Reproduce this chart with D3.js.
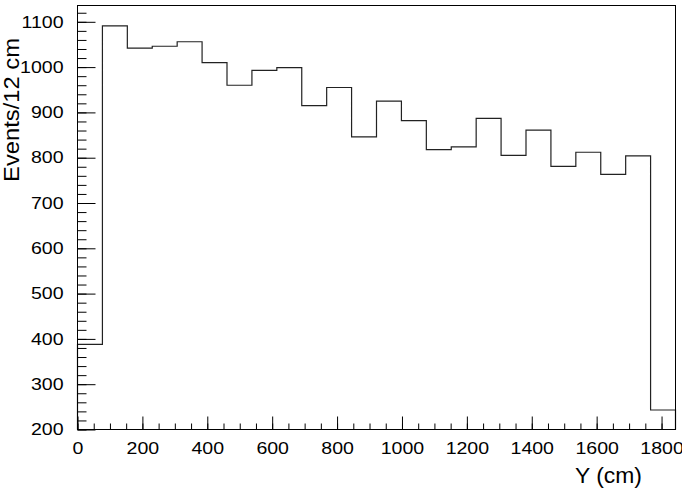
<!DOCTYPE html>
<html>
<head>
<meta charset="utf-8">
<script src="https://cdn.jsdelivr.net/npm/d3@7"></script>
<style>
  html, body { margin: 0; padding: 0; background: #fff; }
  svg { display: block; }
</style>
</head>
<body>
<svg id="chart" width="682" height="489"></svg>
<script>
// ---- data ----
const xRange = [0, 1843];          // Y (cm)
const nBins = 24;
const counts = [388, 1091, 1042, 1046, 1056, 1010, 960, 993, 999, 915, 955, 846,
                925, 882, 818, 824, 887, 805, 861, 781, 812, 763, 804, 243];
const yRange = [200, 1136];
const xMajorTicks = [0, 200, 400, 600, 800, 1000, 1200, 1400, 1600, 1800];
const yMajorTicks = [200, 300, 400, 500, 600, 700, 800, 900, 1000, 1100];
const xLabel = "Y (cm)";
const yLabel = "Events/12 cm";

// ---- layout ----
const svg = d3.select("#chart");
const L = 77.5, R = 675.5, T = 5.5, B = 429.5;
const FONT = "Liberation Sans, Arial, Helvetica, sans-serif";
const WIDEN = 1.2;

const x = d3.scaleLinear().domain(xRange).range([L, R]);
const y = d3.scaleLinear().domain(yRange).range([B, T]);

const binW = (xRange[1] - xRange[0]) / nBins;
const bins = counts.map((c, i) => ({x0: xRange[0] + i * binW, x1: xRange[0] + (i + 1) * binW, v: c}));

// histogram outline
let d = `M${x(bins[0].x0)},${y(yRange[0])}`;
bins.forEach(b => { d += `L${x(b.x0)},${y(b.v)}L${x(b.x1)},${y(b.v)}`; });
d += `L${x(bins[bins.length - 1].x1)},${y(yRange[0])}`;
svg.append("path").attr("d", d).attr("fill", "none").attr("stroke", "#222").attr("stroke-width", 1.2);

// frame
svg.append("rect").attr("x", L).attr("y", T).attr("width", R - L).attr("height", B - T)
  .attr("fill", "none").attr("stroke", "#000").attr("stroke-width", 1);

function widen(sel, f) {
  sel.each(function () {
    const w = this.getComputedTextLength();
    d3.select(this).attr("textLength", w * f).attr("lengthAdjust", "spacingAndGlyphs");
  });
}

// y axis minor
const yMinor = d3.range(yRange[0], yRange[1], 20);
svg.append("g").attr("transform", `translate(${L},0)`)
  .call(d3.axisLeft(y).tickValues(yMinor).tickSizeInner(-9).tickSizeOuter(0).tickFormat(""))
  .call(g => g.select(".domain").remove());
// y axis major
svg.append("g").attr("transform", `translate(${L},0)`)
  .call(d3.axisLeft(y).tickValues(yMajorTicks).tickSizeInner(-18).tickSizeOuter(0).tickPadding(14).tickFormat(d3.format("d")))
  .call(g => g.select(".domain").remove())
  .call(g => g.selectAll("text").attr("font-family", FONT).attr("font-size", 16.3).attr("fill", "#000").call(widen, WIDEN));

// x axis minor
const xMinor = d3.range(0, xRange[1], 50);
svg.append("g").attr("transform", `translate(0,${B})`)
  .call(d3.axisBottom(x).tickValues(xMinor).tickSizeInner(-6).tickSizeOuter(0).tickFormat(""))
  .call(g => g.select(".domain").remove());
// x axis major
svg.append("g").attr("transform", `translate(0,${B})`)
  .call(d3.axisBottom(x).tickValues(xMajorTicks).tickSizeInner(-13).tickSizeOuter(0).tickPadding(13).tickFormat(d3.format("d")))
  .call(g => g.select(".domain").remove())
  .call(g => g.selectAll("text").attr("font-family", FONT).attr("font-size", 16.3).attr("fill", "#000").call(widen, WIDEN));

svg.selectAll(".tick line").attr("stroke", "#000");

// axis titles
svg.append("text").attr("x", 642).attr("y", 483).attr("text-anchor", "end")
  .attr("font-family", FONT).attr("font-size", 22).attr("fill", "#000").text(xLabel)
  .call(widen, 1.04);
svg.append("text").attr("transform", "translate(18.5,38) rotate(-90)").attr("text-anchor", "end")
  .attr("font-family", FONT).attr("font-size", 21.8).attr("fill", "#000").text(yLabel)
  .call(widen, 1.09);
</script>
</body>
</html>
